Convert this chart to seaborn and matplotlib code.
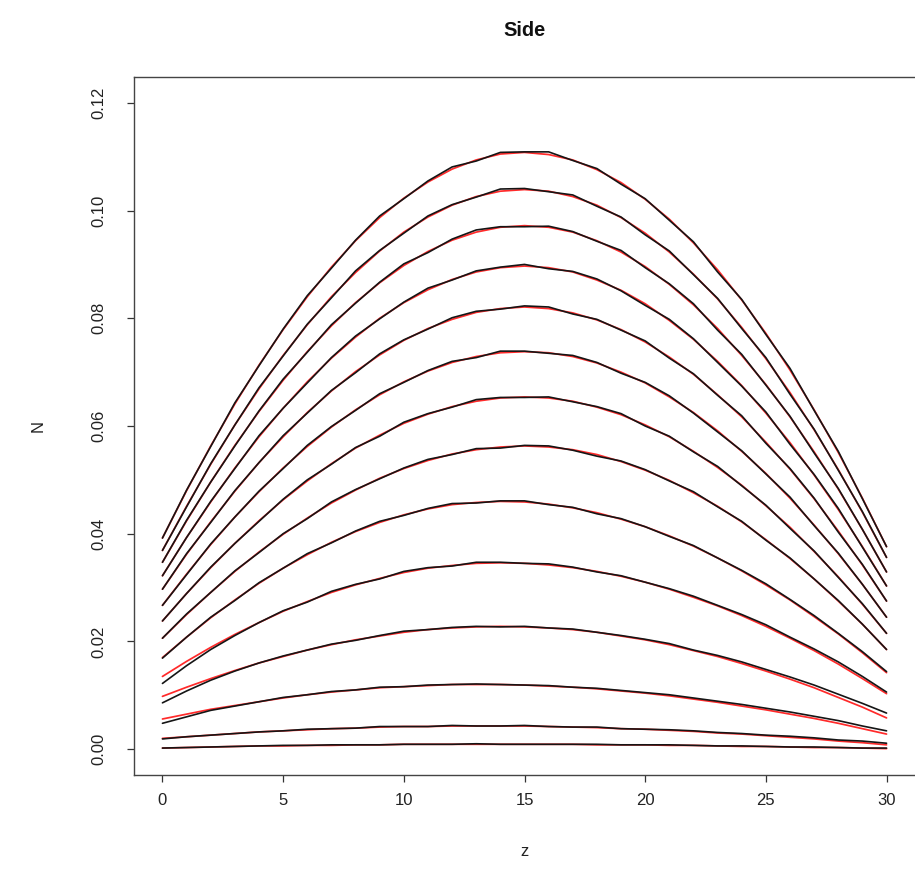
import matplotlib
matplotlib.use("Agg")
import matplotlib.pyplot as plt
import numpy as np
import pandas as pd
import seaborn as sns

# ---- data ----
z = list(range(0, 31))

model_1 = [.0392,.0480,.0563,.0641,.0713,.0779,.0840,.0895,.0944,.0987,.1023,.1053,.1077,.1094,.1105,.1108,.1104,.1094,.1076,.1052,.1021,.0984,.0940,.0890,.0834,.0772,.0704,.0630,.0551,.0466,.0376]
model_2 = [.0369,.0451,.0529,.0602,.0669,.0731,.0788,.0840,.0885,.0925,.0960,.0988,.1010,.1026,.1036,.1039,.1036,.1026,.1010,.0987,.0958,.0923,.0882,.0836,.0783,.0725,.0662,.0593,.0519,.0440,.0356]
model_3 = [.0347,.0424,.0496,.0564,.0627,.0685,.0738,.0786,.0829,.0866,.0898,.0924,.0945,.0960,.0969,.0972,.0969,.0960,.0944,.0923,.0896,.0863,.0825,.0781,.0731,.0677,.0617,.0552,.0483,.0408,.0329]
model_4 = [.0322,.0393,.0459,.0522,.0580,.0633,.0682,.0726,.0765,.0800,.0829,.0853,.0872,.0886,.0894,.0897,.0894,.0886,.0871,.0852,.0827,.0796,.0761,.0720,.0675,.0624,.0569,.0509,.0445,.0376,.0303]
model_5 = [.0297,.0362,.0422,.0479,.0532,.0580,.0625,.0665,.0701,.0732,.0759,.0781,.0798,.0811,.0818,.0821,.0818,.0810,.0797,.0779,.0756,.0728,.0696,.0658,.0617,.0570,.0520,.0465,.0405,.0342,.0275]
model_6 = [.0267,.0325,.0380,.0431,.0478,.0522,.0562,.0598,.0630,.0658,.0682,.0702,.0718,.0729,.0736,.0738,.0736,.0729,.0717,.0700,.0680,.0654,.0625,.0591,.0553,.0512,.0466,.0416,.0363,.0306,.0245]
model_7 = [.0238,.0289,.0337,.0382,.0424,.0463,.0498,.0530,.0559,.0583,.0605,.0622,.0636,.0646,.0652,.0654,.0652,.0646,.0635,.0621,.0602,.0580,.0553,.0523,.0490,.0452,.0412,.0367,.0320,.0269,.0215]
model_8 = [.0206,.0250,.0291,.0330,.0366,.0399,.0429,.0457,.0481,.0503,.0521,.0536,.0548,.0556,.0561,.0563,.0561,.0556,.0547,.0534,.0518,.0499,.0476,.0451,.0422,.0389,.0354,.0316,.0275,.0232,.0185]
model_9 = [.0170,.0208,.0244,.0277,.0308,.0336,.0361,.0384,.0404,.0421,.0435,.0446,.0454,.0458,.0460,.0459,.0455,.0448,.0439,.0427,.0413,.0396,.0377,.0355,.0331,.0305,.0277,.0246,.0214,.0179,.0142]
model_10 = [.0135,.0163,.0189,.0213,.0235,.0256,.0274,.0291,.0305,.0317,.0328,.0336,.0341,.0345,.0346,.0345,.0342,.0337,.0330,.0321,.0310,.0297,.0282,.0266,.0248,.0228,.0206,.0183,.0158,.0131,.0103]
model_11 = [.0098,.0115,.0131,.0146,.0160,.0172,.0184,.0194,.0203,.0210,.0217,.0222,.0225,.0227,.0228,.0227,.0225,.0222,.0217,.0210,.0203,.0194,.0183,.0172,.0159,.0145,.0130,.0114,.0096,.0078,.0058]
model_12 = [.0056,.0065,.0074,.0081,.0088,.0095,.0101,.0106,.0110,.0114,.0116,.0118,.0120,.0120,.0120,.0119,.0117,.0115,.0112,.0108,.0104,.0099,.0093,.0087,.0080,.0073,.0065,.0057,.0048,.0038,.0028]
model_13 = [.0020,.0023,.0026,.0029,.0032,.0034,.0036,.0038,.0039,.0041,.0042,.0042,.0043,.0043,.0043,.0043,.0042,.0041,.0040,.0038,.0037,.0035,.0033,.0030,.0028,.0025,.0022,.0019,.0015,.0012,.0008]
model_14 = [.0002,.0003,.0004,.0005,.0006,.0006,.0007,.0007,.0008,.0008,.0009,.0009,.0009,.0009,.0009,.0009,.0009,.0009,.0008,.0008,.0008,.0007,.0007,.0006,.0005,.0005,.0004,.0003,.0003,.0002,.0001]

sim_1 = [.0392,.0481,.0562,.0643,.0712,.0780,.0842,.0893,.0945,.0990,.1022,.1055,.1081,.1092,.1108,.1109,.1109,.1093,.1078,.1049,.1022,.0982,.0942,.0886,.0835,.0770,.0707,.0629,.0553,.0465,.0376]
sim_2 = [.0369,.0450,.0530,.0602,.0671,.0730,.0789,.0838,.0888,.0926,.0958,.0990,.1011,.1025,.1040,.1041,.1035,.1029,.1008,.0988,.0955,.0925,.0881,.0837,.0781,.0727,.0659,.0594,.0518,.0441,.0356]
sim_3 = [.0347,.0425,.0496,.0563,.0628,.0687,.0737,.0788,.0828,.0867,.0901,.0922,.0947,.0964,.0970,.0970,.0971,.0961,.0943,.0926,.0894,.0864,.0827,.0778,.0733,.0676,.0618,.0550,.0484,.0408,.0329]
sim_4 = [.0322,.0393,.0460,.0521,.0582,.0633,.0680,.0727,.0767,.0799,.0830,.0856,.0871,.0888,.0895,.0900,.0892,.0887,.0873,.0851,.0824,.0798,.0762,.0718,.0674,.0626,.0566,.0510,.0447,.0375,.0303]
sim_5 = [.0297,.0363,.0421,.0480,.0532,.0582,.0624,.0666,.0699,.0734,.0760,.0780,.0801,.0813,.0817,.0823,.0821,.0808,.0798,.0778,.0758,.0726,.0697,.0657,.0619,.0568,.0521,.0466,.0403,.0343,.0275]
sim_6 = [.0267,.0324,.0381,.0431,.0479,.0521,.0564,.0599,.0629,.0660,.0681,.0703,.0720,.0727,.0739,.0739,.0735,.0731,.0718,.0698,.0681,.0656,.0624,.0589,.0554,.0511,.0468,.0415,.0364,.0306,.0245]
sim_7 = [.0238,.0289,.0338,.0382,.0423,.0464,.0500,.0529,.0560,.0581,.0607,.0623,.0635,.0649,.0653,.0653,.0654,.0645,.0636,.0623,.0600,.0581,.0552,.0525,.0489,.0453,.0410,.0368,.0319,.0270,.0215]
sim_8 = [.0206,.0251,.0291,.0331,.0365,.0400,.0428,.0459,.0482,.0502,.0522,.0538,.0547,.0558,.0559,.0564,.0563,.0555,.0544,.0535,.0519,.0498,.0478,.0450,.0423,.0388,.0355,.0316,.0276,.0232,.0185]
sim_9 = [.0169,.0208,.0245,.0276,.0309,.0336,.0363,.0383,.0405,.0423,.0434,.0447,.0456,.0457,.0461,.0461,.0454,.0449,.0437,.0428,.0413,.0395,.0378,.0355,.0332,.0307,.0278,.0248,.0215,.0181,.0144]
sim_10 = [.0122,.0155,.0185,.0211,.0235,.0257,.0273,.0293,.0306,.0316,.0330,.0337,.0340,.0347,.0347,.0345,.0344,.0338,.0329,.0322,.0310,.0298,.0284,.0267,.0250,.0231,.0208,.0186,.0162,.0135,.0106]
sim_11 = [.0086,.0108,.0128,.0145,.0160,.0173,.0184,.0195,.0202,.0211,.0219,.0222,.0226,.0228,.0227,.0228,.0225,.0223,.0217,.0211,.0204,.0196,.0184,.0174,.0162,.0148,.0134,.0119,.0102,.0085,.0067]
sim_12 = [.0048,.0060,.0072,.0080,.0088,.0096,.0101,.0107,.0110,.0115,.0116,.0119,.0120,.0121,.0120,.0119,.0118,.0115,.0113,.0109,.0105,.0101,.0095,.0089,.0083,.0076,.0069,.0061,.0053,.0043,.0034]
sim_13 = [.0019,.0023,.0026,.0029,.0032,.0034,.0037,.0038,.0039,.0042,.0042,.0042,.0044,.0043,.0043,.0044,.0042,.0041,.0041,.0038,.0037,.0036,.0034,.0031,.0029,.0026,.0024,.0021,.0017,.0015,.0011]
sim_14 = [.0002,.0003,.0004,.0005,.0006,.0007,.0007,.0008,.0008,.0008,.0009,.0009,.0009,.0010,.0009,.0009,.0009,.0009,.0009,.0008,.0008,.0008,.0007,.0006,.0006,.0005,.0004,.0004,.0003,.0002,.0002]

x_ticks = [0, 5, 10, 15, 20, 25, 30]
y_ticks = [0.00, 0.02, 0.04, 0.06, 0.08, 0.10, 0.12]
title = "Side"
x_label = "z"
y_label = "N"

models = [model_1, model_2, model_3, model_4, model_5, model_6, model_7,
          model_8, model_9, model_10, model_11, model_12, model_13, model_14]
sims = [sim_1, sim_2, sim_3, sim_4, sim_5, sim_6, sim_7,
        sim_8, sim_9, sim_10, sim_11, sim_12, sim_13, sim_14]

rows_m, rows_s = [], []
for i, (m, s) in enumerate(zip(models, sims)):
    for zz, mv, sv in zip(z, m, s):
        rows_m.append({"z": zz, "N": mv, "curve": i})
        rows_s.append({"z": zz, "N": sv, "curve": i})
df_m = pd.DataFrame(rows_m)
df_s = pd.DataFrame(rows_s)

# ---- styling ----
sns.set_theme(style="ticks")
plt.rcParams["font.family"] = ["Liberation Sans", "DejaVu Sans"]

W, H = 915, 889
fig = plt.figure(figsize=(W / 100, H / 100), dpi=100)
ax_l, ax_r, ax_t, ax_b = 133.5, 915.5, 77, 775
ax = fig.add_axes([ax_l / W, 1 - ax_b / H, (ax_r - ax_l) / W, (ax_b - ax_t) / H])

sns.lineplot(data=df_m, x="z", y="N", units="curve", estimator=None,
             color="#ff2a2a", linewidth=1.25, ax=ax, legend=False)
sns.lineplot(data=df_s, x="z", y="N", units="curve", estimator=None,
             color="#151515", linewidth=1.2, ax=ax, legend=False)

ax.set_xlim(-1.2, 31.2)
ax.set_ylim(-0.0048, 0.1248)
ax.set_xticks(x_ticks)
ax.set_xticklabels([str(t) for t in x_ticks])
ax.set_yticks(y_ticks)
ax.set_yticklabels([f"{t:.2f}" for t in y_ticks])
ax.set_xlabel("")
ax.set_ylabel("")

ax.tick_params(axis="both", which="major", direction="out", length=5,
               width=0.9, color="#333333", labelsize=12, labelcolor="#222222",
               bottom=True, left=True, top=False, right=False)
ax.tick_params(axis="x", pad=8)
for lab in ax.get_yticklabels():
    lab.set_rotation(90)
    lab.set_va("center")
    lab.set_ha("center")
ax.tick_params(axis="y", pad=20)

for sp in ax.spines.values():
    sp.set_visible(True)
    sp.set_color("#444444")
    sp.set_linewidth(1.0)

cx = (ax_l + ax_r) / 2
fig.text(cx / W, 1 - 30 / H, title, ha="center", va="center",
         fontsize=14.4, fontweight="bold", color="#111111")
fig.text(cx / W, 1 - 851 / H, x_label, ha="center", va="center",
         fontsize=12, color="#222222")
fig.text(38 / W, 1 - 426 / H, y_label, ha="center", va="center",
         rotation=90, fontsize=12, color="#222222")

fig.savefig("out.png", dpi=100, facecolor="white")
